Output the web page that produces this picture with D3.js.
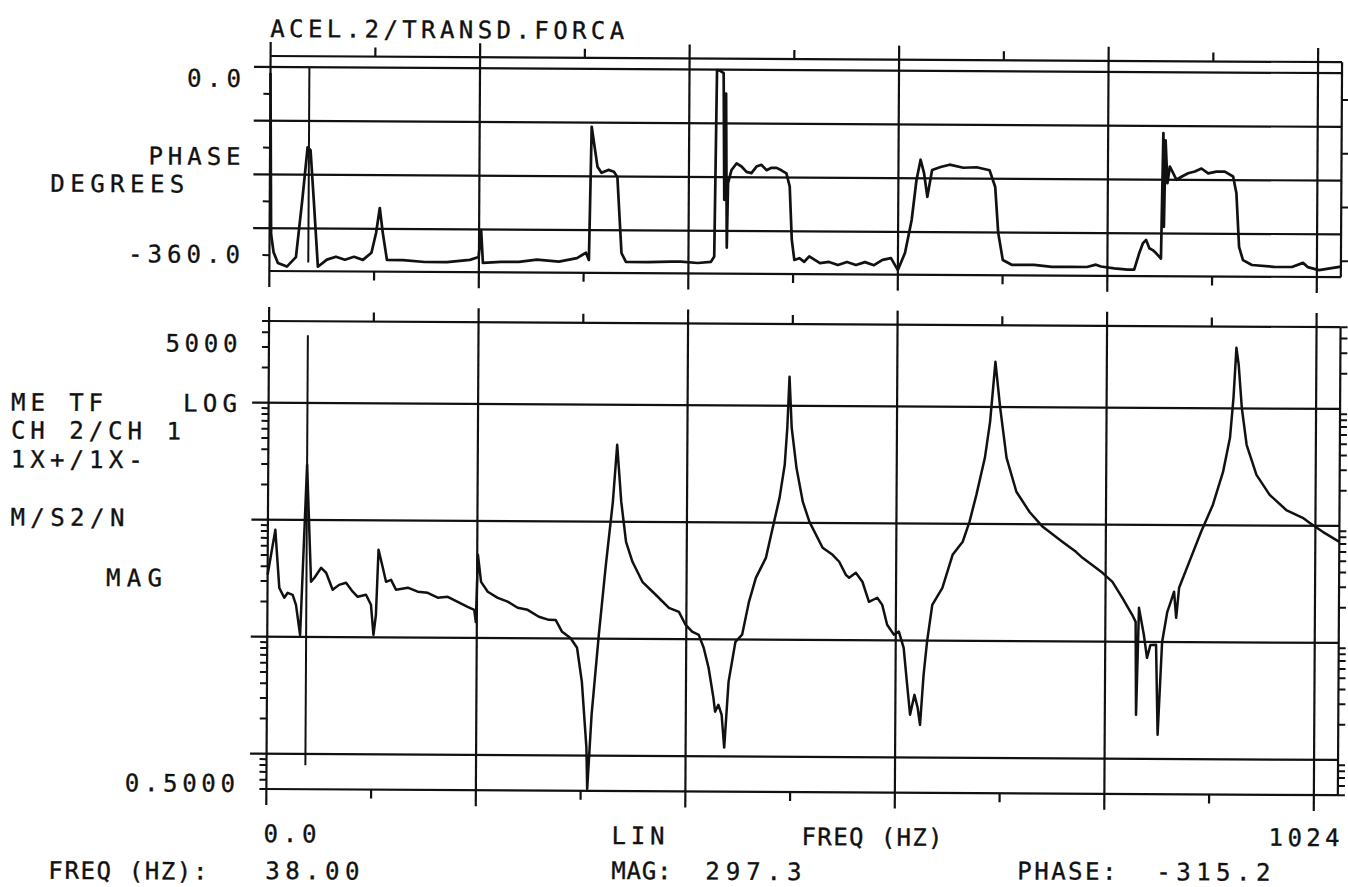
<!DOCTYPE html>
<html lang="en">
<head>
<meta charset="UTF-8">
<title>ACEL.2/TRANSD.FORCA</title>
<script src="https://d3js.org/d3.v7.min.js"></script>
<style>
  body { margin: 0; background: #fff; }
  text { font-family: "DejaVu Sans Mono", monospace; font-size: 24px; fill: #111; stroke: #111; stroke-width: 0.35px; }
</style>
</head>
<body>
<div id="chart"></div>
<script>
// magnitude trace (M/S2/N)
const magFreq = [0, 7.3, 11.5, 16.4, 19.7, 24.6, 27.9, 32.1, 38, 42.5, 45.8, 52.3, 57.2, 63.7, 69.9, 76.7, 83.3, 88.2, 96.3, 101.2,
  103.8, 106.1, 108.3, 112.6, 115.8, 120.7, 125.6, 137.1, 146.8, 156.6, 166.4, 176.2, 186.0, 195.7, 202.2, 203.8, 205.5, 208.7, 215.3, 225.1,
  234.8, 244.6, 254.4, 265.4, 275.2, 281.8, 288.2, 296.4, 302.9, 307.8, 312.6, 313.6, 317.5, 324.1, 330.6, 337.1, 341.0, 345.3, 350.2, 356.6,
  366.4, 379.5, 392.5, 402.3, 408.8, 415.3, 421.8, 426.7, 431.6, 436.5, 438.2, 441.4, 444.6, 447.3, 451.2, 457.7, 464.2, 470.7, 477.3, 487.0,
  493.5, 500.0, 504.9, 507.2, 509.1, 511.5, 516.4, 522.8, 529.4, 542.4, 552.2, 558.7, 565.3, 568.5, 575.0, 581.5, 588.0, 596.1, 601.0, 605.9,
  612.5, 617.4, 622.2, 625.5, 628.8, 633.0, 636.2, 638.6, 641.8, 645.0, 649.9, 659.7, 669.5, 679.3, 685.8, 692.4, 700.5, 705.4, 710.3, 715.2,
  721.7, 731.5, 744.5, 757.5, 777.0, 790.1, 796.5, 809.6, 816.1, 825.9, 835.7, 845.4, 848.8, 849.7, 852.0, 856.9, 860.1, 863.4, 868.9, 870.9,
  874.8, 879.7, 883.0, 886.2, 888.4, 891.1, 900.9, 912.3, 923.6, 933.4, 940.0, 943.2, 945.8, 948.1, 951.4, 956.3, 966.1, 979.1, 995.4, 1011.6,
  1018.2, 1031.2, 1047.5];
const magVal = [33.9, 82.1, 26.2, 21.6, 23.8, 22.9, 18.8, 10.4, 297, 29.7, 32.1, 39.1, 35.5, 25.4, 28.0, 29.2, 24.5, 22.2, 23.1, 19.0,
  10.5, 15.6, 56.1, 39.4, 29.9, 31.1, 25.6, 26.7, 24.7, 24.2, 22.0, 22.4, 20.3, 18.4, 17.4, 13.7, 51.4, 30.2, 24.9, 22.1,
  20.5, 18.2, 17.5, 15.3, 14.4, 14.4, 11.4, 10.1, 8.34, 4.27, 1.17, 0.52, 2.24, 10.8, 42.8, 148, 455, 148, 67.5, 45.6,
  30.8, 23.9, 18.5, 17.1, 13.3, 11.6, 10.9, 8.46, 5.71, 3.16, 2.41, 2.76, 2.27, 1.19, 4.34, 9.55, 11.0, 21.0, 33.7, 50.0,
  90.4, 163, 313, 649, 1770, 649, 295, 151, 102, 61.4, 53.5, 46.7, 36.1, 34.1, 37.7, 31.6, 21.3, 23.1, 20.1, 13.6,
  11.2, 11.9, 8.65, 4.43, 2.32, 3.43, 2.66, 1.90, 5.09, 9.77, 20.2, 28.3, 54.2, 70.2, 104, 177, 367, 746, 2430, 984,
  368, 189, 127, 95.0, 70.8, 58.3, 51.9, 42.7, 38.7, 32.4, 23.7, 17.0, 14.8, 2.38, 19.5, 11.5, 7.30, 9.42, 9.44, 1.61,
  10.0, 18.1, 22.0, 26.9, 16.1, 29.1, 48.5, 87.7, 149, 286, 560, 1230, 3290, 2360, 1010, 489, 271, 183, 136, 117,
  106, 88.9, 73.1];

// phase trace (degrees)
const phaseFreq = [0, 1.5, 4.0, 8.3, 17.1, 25.9, 31.8, 36.7, 39.6, 43.0, 47.4, 56.2, 65.0, 73.8, 82.6, 91.4, 99.7, 104.1, 107.6, 110.7,
  114.9, 130.5, 152.0, 173.5, 196.0, 204.5, 206.8, 208.7, 226.3, 243.9, 261.5, 283.0, 300.6, 309.4, 312.3, 314.3, 320.2, 324.1, 330.9, 336.3,
  339.7, 344.1, 348.5, 370.0, 392.5, 402.3, 418.6, 431.6, 434.8, 436.5, 439.7, 443.0, 444.3, 445.5, 447.0, 447.9, 451.2, 456.1, 461.0, 465.9,
  470.7, 475.6, 480.5, 485.4, 490.3, 495.2, 500.0, 504.9, 508.2, 510.5, 513.1, 518.0, 522.8, 527.7, 538.2, 547.0, 555.8, 564.6, 573.4, 582.2,
  591.0, 599.3, 607.6, 614.4, 621.3, 627.6, 632.1, 636.0, 639.4, 642.8, 647.3, 655.6, 664.4, 677.8, 690.8, 703.5, 709.1, 712.3, 716.9, 725.6,
  747.5, 765.1, 782.2, 799.2, 808.0, 812.9, 825.9, 839.0, 845.4, 850.3, 853.7, 856.9, 860.1, 863.4, 866.6, 871.5, 873.2, 874.2, 875.4, 877.4,
  879.7, 883.0, 886.2, 891.1, 897.6, 904.1, 910.6, 917.2, 925.3, 933.4, 941.6, 944.9, 947.8, 951.7, 960.5, 982.0, 999.6, 1010.4, 1015.0, 1026.0,
  1047.5];
const phaseVal = [-10, -280, -310, -328, -334, -318, -222, -134, -139, -222, -334, -322, -317, -322, -317, -322, -310, -277, -235, -277,
  -322, -322, -325, -325, -321, -316, -271, -326, -324, -324, -320, -323, -317, -308, -320, -97, -164, -174, -169, -172,
  -181, -308, -323, -323, -322, -322, -324, -322, -313, -1, -2, -6, -218, -40, -298, -190, -168, -157, -162, -171,
  -173, -162, -159, -168, -164, -164, -168, -173, -195, -284, -318, -315, -321, -312, -323, -321, -326, -321, -326, -321,
  -326, -317, -314, -334, -305, -250, -183, -149, -171, -211, -166, -161, -157, -162, -161, -166, -194, -271, -316, -324,
  -324, -327, -327, -327, -323, -326, -329, -331, -331, -303, -287, -281, -295, -298, -303, -312, -102, -259, -114, -186,
  -158, -169, -180, -175, -169, -166, -161, -169, -166, -166, -174, -202, -292, -314, -322, -325, -325, -318, -325, -330,
  -324];

const freqTicks = [0, 204.8, 409.6, 614.4, 819.2, 1024];
const phaseGrid = [0, -90, -180, -270];
const phaseMinor = [-45, -135, -225, -315];
const magGrid = [1, 10, 100, 1000];
const markerFreq = 38;

const width = 1348, height = 887;
const ink = "#111";

const svg = d3.select("#chart").append("svg")
  .attr("width", width)
  .attr("height", height);

// the scanned sheet is slightly tilted
const g = svg.append("g").attr("transform", "rotate(0.33 268 420)");

const x = d3.scaleLinear().domain([0, 1024]).range([268.5, 1316]);
const yP = d3.scaleLinear().domain([-360, 0]).range([282, 67]);
const yM = d3.scaleLog().domain([0.5, 5000]).range([789, 321]);

const xL = x(0), xR = x(1024) + 24;

function line(x1, y1, x2, y2, w) {
  g.append("line")
    .attr("x1", x1).attr("y1", y1)
    .attr("x2", x2).attr("y2", y2)
    .attr("stroke", ink)
    .attr("stroke-width", w || 2.2);
}

function panel(top, bottom, gridYs, leftTicks) {
  // frame
  line(xL, top, xR, top);
  line(xL, bottom, xR, bottom);
  line(xR, top, xR, bottom);
  // horizontal grid
  gridYs.forEach(y => line(252, y, xR, y));
  // vertical grid + minor ticks
  freqTicks.forEach(f => line(x(f), top - 14, x(f), bottom + 16));
  d3.pairs(freqTicks).forEach(([a, b]) => {
    const m = x((a + b) / 2);
    line(m, top - 9, m, top);
    line(m, bottom, m, bottom + 9);
  });
  leftTicks.forEach(y => {
    line(xL - 7, y, xL, y, 2);
    line(xR, y, xR + 7, y, 2);
  });
}

// phase panel
const pTop = yP(0) - 11, pBot = yP(-360) - 11;
panel(pTop, pBot, phaseGrid.map(yP), phaseMinor.map(yP));

// magnitude panel
const logTicks = [];
[0.1, 1, 10, 100, 1000].forEach(d => {
  for (let k = 2; k <= 9; k++) {
    const v = d * k;
    if (v >= 0.5 && v <= 5000) logTicks.push(v);
  }
});
panel(yM(5000), yM(0.5), magGrid.map(yM), logTicks.map(yM));

// marker cursor
line(x(markerFreq), yP(0), x(markerFreq), yP(-327), 2);
line(x(markerFreq), yM(3800), x(markerFreq), yM(0.8), 2);

// traces
const phaseData = phaseFreq.map((f, i) => [f, phaseVal[i]]);
const magData = magFreq.map((f, i) => [f, magVal[i]]);

g.append("path")
  .datum(phaseData)
  .attr("fill", "none")
  .attr("stroke", ink)
  .attr("stroke-width", 2.7)
  .attr("stroke-linejoin", "round")
  .attr("d", d3.line().x(d => x(d[0])).y(d => yP(d[1])));

g.append("path")
  .datum(magData)
  .attr("fill", "none")
  .attr("stroke", ink)
  .attr("stroke-width", 2.5)
  .attr("stroke-linejoin", "round")
  .attr("d", d3.line().x(d => x(d[0])).y(d => yM(d[1])));

// labels, stretched to the width they take on the plot
function label(str, lx, ly, w) {
  g.append("text")
    .attr("x", lx).attr("y", ly)
    .attr("textLength", w)
    .attr("lengthAdjust", "spacing")
    .text(str);
}

label("ACEL.2/TRANSD.FORCA", 268, 37, 354);
label("0.0", 185, 87, 54);
label("PHASE", 147, 165, 92);
label("DEGREES", 49, 193, 134);
label("-360.0", 127, 263, 112);

label("5000", 165, 352, 72);
label("ME TF", 11, 412, 92);
label("LOG", 183, 412, 54);
label("CH 2/CH 1", 11, 440, 170);
label("1X+/1X-", 11, 469, 132);
label("M/S2/N", 11, 527, 114);
label("MAG", 107, 587, 56);
label("0.5000", 127, 792, 110);

label("0.0", 266, 842, 53);
label("LIN", 614, 842, 53);
label("FREQ (HZ)", 804, 842, 141);
label("1024", 1271, 840, 71);

label("FREQ (HZ):", 51, 880, 159);
label("38.00", 268, 879, 94);
label("MAG:", 614, 877, 60);
label("297.3", 708, 877, 96);
label("PHASE:", 1020, 875, 99);
label("-315.2", 1159, 875, 114);
</script>
</body>
</html>
